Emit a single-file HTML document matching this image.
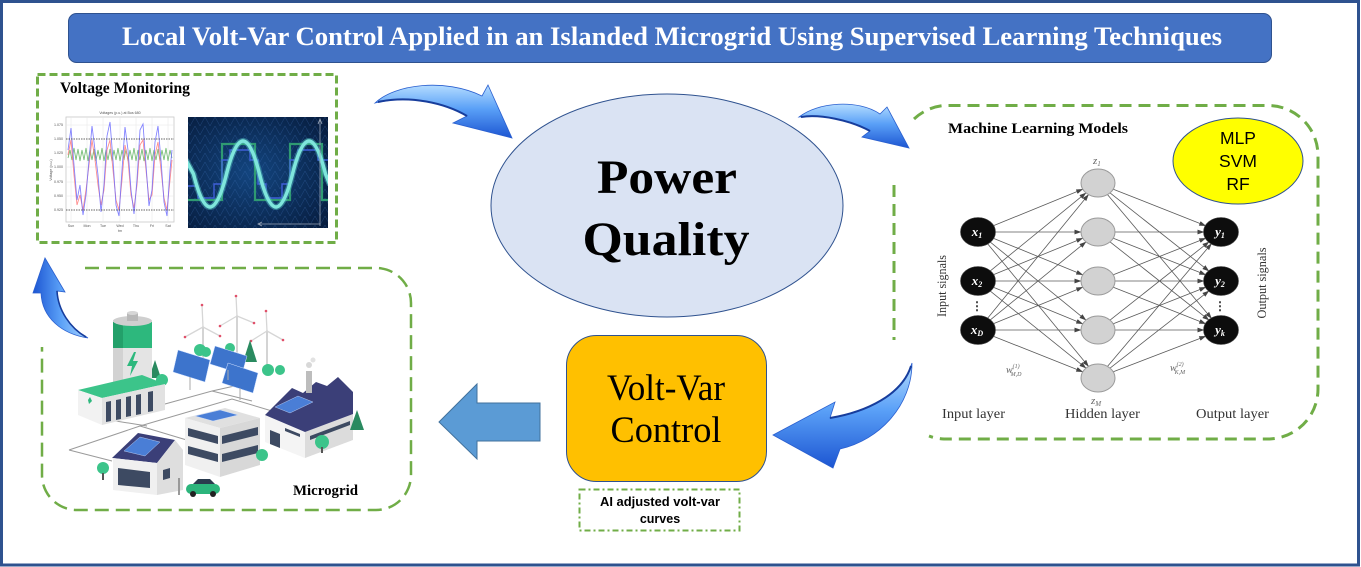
<!DOCTYPE html>
<html><head><meta charset="utf-8">
<style>
html,body{margin:0;padding:0;background:#fff;}
svg{display:block;}
</style></head><body>
<svg width="1361" height="567" viewBox="0 0 1361 567" xmlns="http://www.w3.org/2000/svg">
<defs>
 <linearGradient id="ag" x1="0" y1="0" x2="0" y2="1">
  <stop offset="0" stop-color="#b4dcff"/>
  <stop offset="0.45" stop-color="#5aa0f7"/>
  <stop offset="1" stop-color="#1c55d2"/>
 </linearGradient>
 <linearGradient id="agh" x1="0" y1="0" x2="1" y2="0">
  <stop offset="0" stop-color="#1c55d2"/>
  <stop offset="0.5" stop-color="#5aa0f7"/>
  <stop offset="1" stop-color="#a8d4ff"/>
 </linearGradient>
 <radialGradient id="wbg" cx="0.45" cy="0.5" r="0.75">
  <stop offset="0" stop-color="#13457f"/>
  <stop offset="1" stop-color="#061a3a"/>
 </radialGradient>
 <pattern id="tri" width="10" height="9" patternUnits="userSpaceOnUse">
  <path d="M0,9 L5,0 L10,9" fill="none" stroke="#3a6cb0" stroke-width="0.5" opacity="0.5"/>
 </pattern>
 <clipPath id="wclip"><rect x="188" y="117" width="140" height="111"/></clipPath>
 <marker id="ah" markerWidth="7" markerHeight="6" refX="6.5" refY="3" orient="auto" markerUnits="userSpaceOnUse">
  <path d="M0,0.6 L7,3 L0,5.4 Z" fill="#444"/>
 </marker>
</defs>

<!-- outer border -->
<rect x="1.5" y="1.5" width="1357" height="563.5" fill="#fff" stroke="#2F528F" stroke-width="3"/>

<!-- title -->
<rect x="68.5" y="13.5" width="1203" height="49" rx="8" fill="#4472C4" stroke="#2F528F" stroke-width="1"/>
<text x="672" y="45" text-anchor="middle" font-family="Liberation Serif, serif" font-weight="bold" font-size="26" fill="#fff" textLength="1100" lengthAdjust="spacingAndGlyphs">Local Volt-Var Control Applied in an Islanded Microgrid Using Supervised Learning Techniques</text>

<!-- Voltage monitoring box -->
<rect x="37.5" y="74.5" width="299" height="168" fill="none" stroke="#70AD47" stroke-width="3" stroke-dasharray="8 4"/>
<text x="60" y="93" font-family="Liberation Serif, serif" font-weight="bold" font-size="15.5" fill="#000" textLength="130" lengthAdjust="spacingAndGlyphs">Voltage Monitoring</text>

<!-- chart -->
<g>
 <rect x="66" y="117" width="108" height="105" fill="#fff" stroke="#c8c8c8" stroke-width="0.8"/>
 <g stroke="#e6e6e6" stroke-width="0.5">
  <line x1="71" y1="117" x2="71" y2="222"/><line x1="87" y1="117" x2="87" y2="222"/>
  <line x1="103" y1="117" x2="103" y2="222"/><line x1="120" y1="117" x2="120" y2="222"/>
  <line x1="136" y1="117" x2="136" y2="222"/><line x1="152" y1="117" x2="152" y2="222"/>
  <line x1="168" y1="117" x2="168" y2="222"/>
  <line x1="66" y1="125" x2="174" y2="125"/><line x1="66" y1="153" x2="174" y2="153"/>
  <line x1="66" y1="167" x2="174" y2="167"/><line x1="66" y1="182" x2="174" y2="182"/>
  <line x1="66" y1="196" x2="174" y2="196"/>
 </g>
 <polyline fill="none" stroke="#5fb35f" stroke-width="0.8" opacity="0.9" points="68,158 70,150 72,160 74,148 76,160 78,149 80,161 82,150 84,160 86,148 88,161 90,150 92,160 94,149 96,161 98,150 100,160 102,148 104,161 106,150 108,160 110,149 112,161 114,150 116,160 118,148 120,161 122,150 124,160 126,149 128,161 130,150 132,160 134,148 136,161 138,150 140,160 142,149 144,161 146,150 148,160 150,148 152,161 154,150 156,160 158,149 160,161 162,150 164,160 166,148 168,161 170,150 172,158"/>
 <polyline fill="none" stroke="#ff7a7a" stroke-width="0.9" opacity="0.85" points="68,155 71,140 74,175 77,205 80,195 83,210 86,190 89,165 92,140 95,160 98,185 101,205 104,190 107,150 110,140 113,170 116,200 119,210 122,180 125,145 128,160 131,195 134,208 137,185 140,145 143,140 146,170 149,200 152,195 155,155 158,142 161,170 164,198 167,210 170,180 172,160"/>
 <polyline fill="none" stroke="#6f6fff" stroke-width="0.9" opacity="0.85" points="68,150 71,128 74,165 77,200 80,185 83,215 86,195 89,160 92,126 95,150 98,175 101,212 104,185 107,136 110,122 113,160 116,205 119,216 122,170 125,127 128,150 131,190 134,214 137,180 140,130 143,124 146,165 149,206 152,190 155,142 158,126 161,160 164,202 167,216 170,170 172,150"/>
 <line x1="66" y1="139" x2="174" y2="139" stroke="#333" stroke-width="0.7" stroke-dasharray="1.5 1"/>
 <line x1="66" y1="210" x2="174" y2="210" stroke="#333" stroke-width="0.7" stroke-dasharray="1.5 1"/>
 <g font-family="Liberation Sans, sans-serif" font-size="3.6" fill="#555">
  <text x="120" y="114" text-anchor="middle">Voltages (p.u.) at Bus 680</text>
  <text x="63" y="126" text-anchor="end">1.075</text>
  <text x="63" y="140" text-anchor="end">1.050</text>
  <text x="63" y="154" text-anchor="end">1.025</text>
  <text x="63" y="168" text-anchor="end">1.000</text>
  <text x="63" y="183" text-anchor="end">0.975</text>
  <text x="63" y="197" text-anchor="end">0.950</text>
  <text x="63" y="211" text-anchor="end">0.925</text>
  <text x="71" y="227" text-anchor="middle">Sun</text><text x="87" y="227" text-anchor="middle">Mon</text>
  <text x="103" y="227" text-anchor="middle">Tue</text><text x="120" y="227" text-anchor="middle">Wed</text>
  <text x="136" y="227" text-anchor="middle">Thu</text><text x="152" y="227" text-anchor="middle">Fri</text>
  <text x="168" y="227" text-anchor="middle">Sat</text>
  <text x="120" y="232" text-anchor="middle">tm</text>
  <text x="52" y="170" text-anchor="middle" transform="rotate(-90 52 170)">Voltage (p.u.)</text>
 </g>
</g>

<!-- wave image -->
<g>
 <rect x="188" y="117" width="140" height="111" fill="url(#wbg)"/>
 <rect x="188" y="117" width="140" height="111" fill="url(#tri)"/>
 <g clip-path="url(#wclip)">
  <path d="M188,200 L222,200 L222,144 L255,144 L255,200 L290,200 L290,144 L322,144 L322,200 L330,200" fill="none" stroke="#2f9a72" stroke-width="2.2"/>
  <path d="M188,186 L198,186 L198,198 L214,198 L214,184 L222,184 L222,160 L230,160 L230,150 L250,150 L250,160 L258,160 L258,184 L266,184 L266,198 L282,198 L282,184 L290,184 L290,160 L298,160 L298,150 L318,150 L318,160 L330,160" fill="none" stroke="#3f5fd8" stroke-width="1.4"/>
  <path d="M186,160 L193.5,174 C204.5,218 215.5,218 226.5,174 C237.5,130 248.5,130 259.5,174 C270.5,218 281.5,218 292.5,174 C303.5,130 314.5,130 325.5,174 L330,185" fill="none" stroke="#56c9c8" stroke-width="6" opacity="0.45"/>
  <path d="M186,160 L193.5,174 C204.5,218 215.5,218 226.5,174 C237.5,130 248.5,130 259.5,174 C270.5,218 281.5,218 292.5,174 C303.5,130 314.5,130 325.5,174 L330,185" fill="none" stroke="#7fe6dc" stroke-width="3.5"/>
  <line x1="320" y1="120" x2="320" y2="226" stroke="#9aa6b8" stroke-width="0.8"/>
  <line x1="258" y1="224" x2="320" y2="224" stroke="#9aa6b8" stroke-width="0.8"/>
  <path d="M318,124 L320,119 L322,124" fill="none" stroke="#9aa6b8" stroke-width="0.8"/>
  <path d="M262,222 L258,224 L262,226" fill="none" stroke="#9aa6b8" stroke-width="0.8"/>
 </g>
</g>

<!-- Curved arrows -->
<path d="M375,103 C395,84 445,78 482,96 L488,85 L512,138 L453,123 L467,116 C445,103 410,95 375,103 Z" fill="url(#ag)" stroke="#2a5fcf" stroke-width="0.8"/>
<path d="M467,116 C445,103 410,95 378,102" fill="none" stroke="#173d9c" stroke-width="2"/>
<path d="M799,117 C818,102 858,99 880,114 L887,107 L909,148 L862,137 L870,131 C850,120 820,114 799,117 Z" fill="url(#ag)" stroke="#2a5fcf" stroke-width="0.8"/>
<path d="M870,131 C850,120 820,114 801,117" fill="none" stroke="#173d9c" stroke-width="2"/>
<path d="M45,258 L65,292 L57,291 C58,310 70,328 88,338 C62,334 42,318 41,293 L33,293 Z" fill="url(#agh)" stroke="#2a5fcf" stroke-width="0.8"/>
<path d="M57,291 C58,310 70,328 86,337" fill="none" stroke="#173d9c" stroke-width="1.6"/>
<path d="M912,363 C912,405 880,440 840,449 L833,468 L773,435 L835,402 L830,418 C866,412 902,395 912,363 Z" fill="url(#ag)" stroke="#2a5fcf" stroke-width="0.8"/>
<path d="M830,418 C866,412 902,395 911,366" fill="none" stroke="#173d9c" stroke-width="2"/>

<!-- Power Quality ellipse -->
<ellipse cx="667" cy="205.5" rx="176" ry="111.5" fill="#DAE3F3" stroke="#2F528F" stroke-width="1"/>
<text x="667" y="193" text-anchor="middle" font-family="Liberation Serif, serif" font-weight="bold" font-size="48" fill="#000" textLength="140" lengthAdjust="spacingAndGlyphs">Power</text>
<text x="666" y="255" text-anchor="middle" font-family="Liberation Serif, serif" font-weight="bold" font-size="48" fill="#000" textLength="167" lengthAdjust="spacingAndGlyphs">Quality</text>

<!-- ML box -->
<path d="M914,119 A50,50 0 0 1 944,105.5 L1268,105.5 A50,50 0 0 1 1318,155.5 L1318,389 A50,50 0 0 1 1268,439 L944,439 A50,50 0 0 1 929,436" fill="none" stroke="#70AD47" stroke-width="3" stroke-dasharray="12 7"/>
<path d="M894,185 L894,340" fill="none" stroke="#70AD47" stroke-width="3" stroke-dasharray="12 7"/>
<text x="948" y="133" font-family="Liberation Serif, serif" font-weight="bold" font-size="15" fill="#000" textLength="180" lengthAdjust="spacingAndGlyphs">Machine Learning  Models</text>

<ellipse cx="1238" cy="161" rx="65" ry="43" fill="#FFFF00" stroke="#2F528F" stroke-width="1"/>
<g font-family="Liberation Sans, sans-serif" font-size="17.5" fill="#000" text-anchor="middle">
 <text x="1238" y="144">MLP</text>
 <text x="1238" y="167">SVM</text>
 <text x="1238" y="190">RF</text>
</g>

<!-- NN connections -->
<g stroke="#5a5a5a" stroke-width="0.8" marker-end="url(#ah)">
 <line x1="993.3" y1="225.8" x2="1082.7" y2="189.2"/>
 <line x1="995" y1="232" x2="1081" y2="232"/>
 <line x1="993.3" y1="238.2" x2="1082.7" y2="274.8"/>
 <line x1="990.1" y1="241.9" x2="1085.9" y2="320.1"/>
 <line x1="987.5" y1="243.6" x2="1088.5" y2="366.4"/>
 <line x1="990.1" y1="271.1" x2="1085.9" y2="192.9"/>
 <line x1="993.3" y1="274.8" x2="1082.7" y2="238.2"/>
 <line x1="995" y1="281" x2="1081" y2="281"/>
 <line x1="993.3" y1="287.2" x2="1082.7" y2="323.8"/>
 <line x1="990.1" y1="290.9" x2="1085.9" y2="368.1"/>
 <line x1="987.5" y1="318.4" x2="1088.5" y2="194.6"/>
 <line x1="990.1" y1="320.1" x2="1085.9" y2="241.9"/>
 <line x1="993.3" y1="323.8" x2="1082.7" y2="287.2"/>
 <line x1="995" y1="330" x2="1081" y2="330"/>
 <line x1="993.3" y1="336.2" x2="1082.7" y2="371.8"/>

 <line x1="1113.3" y1="189.2" x2="1205.7" y2="225.8"/>
 <line x1="1110.1" y1="192.9" x2="1208.9" y2="271.1"/>
 <line x1="1107.5" y1="194.6" x2="1211.5" y2="318.4"/>
 <line x1="1115" y1="232" x2="1204" y2="232"/>
 <line x1="1113.3" y1="238.2" x2="1205.7" y2="274.8"/>
 <line x1="1110.1" y1="241.9" x2="1208.9" y2="320.1"/>
 <line x1="1113.3" y1="274.8" x2="1205.7" y2="238.2"/>
 <line x1="1115" y1="281" x2="1204" y2="281"/>
 <line x1="1113.3" y1="287.2" x2="1205.7" y2="323.8"/>
 <line x1="1110.1" y1="320.1" x2="1208.9" y2="241.9"/>
 <line x1="1113.3" y1="323.8" x2="1205.7" y2="287.2"/>
 <line x1="1115" y1="330" x2="1204" y2="330"/>
 <line x1="1107.5" y1="366.4" x2="1211.5" y2="243.6"/>
 <line x1="1110.1" y1="368.1" x2="1208.9" y2="290.9"/>
 <line x1="1113.3" y1="371.8" x2="1205.7" y2="336.2"/>
</g>

<!-- NN nodes -->
<g fill="#d2d2d2" stroke="#9a9a9a" stroke-width="1">
 <ellipse cx="1098" cy="183" rx="17" ry="14"/>
 <ellipse cx="1098" cy="232" rx="17" ry="14"/>
 <ellipse cx="1098" cy="281" rx="17" ry="14"/>
 <ellipse cx="1098" cy="330" rx="17" ry="14"/>
 <ellipse cx="1098" cy="378" rx="17" ry="14"/>
</g>
<g fill="#0d0d0d" stroke="#444" stroke-width="0.6">
 <ellipse cx="978" cy="232" rx="17.5" ry="14.5"/>
 <ellipse cx="978" cy="281" rx="17.5" ry="14.5"/>
 <ellipse cx="978" cy="330" rx="17.5" ry="14.5"/>
 <ellipse cx="1221" cy="232" rx="17.5" ry="14.5"/>
 <ellipse cx="1221" cy="281" rx="17.5" ry="14.5"/>
 <ellipse cx="1221" cy="330" rx="17.5" ry="14.5"/>
</g>
<g font-family="Liberation Serif, serif" font-style="italic" font-weight="bold" font-size="13" fill="#fff" text-anchor="middle">
 <text x="977" y="236">x<tspan font-size="8" dy="2">1</tspan></text>
 <text x="977" y="285">x<tspan font-size="8" dy="2">2</tspan></text>
 <text x="977" y="334">x<tspan font-size="8" dy="2">D</tspan></text>
 <text x="1220" y="236">y<tspan font-size="8" dy="2">1</tspan></text>
 <text x="1220" y="285">y<tspan font-size="8" dy="2">2</tspan></text>
 <text x="1220" y="334">y<tspan font-size="8" dy="2">k</tspan></text>
</g>
<g font-family="Liberation Serif, serif" fill="#333">
 <text x="977" y="310" text-anchor="middle" font-size="12" font-weight="bold">⋮</text>
 <text x="1220" y="310" text-anchor="middle" font-size="12" font-weight="bold">⋮</text>
 <text x="1093" y="164" font-style="italic" font-size="11" fill="#666">z<tspan font-size="7" dy="2">1</tspan></text>
 <text x="1091" y="404" font-style="italic" font-size="11" fill="#666">z<tspan font-size="7" dy="2">M</tspan></text>
 <text x="1006" y="373" font-style="italic" font-size="10" fill="#666">w<tspan font-size="6" dy="-5">(1)</tspan><tspan font-size="6" dx="-9" dy="8">M,D</tspan></text>
 <text x="1170" y="371" font-style="italic" font-size="10" fill="#666">w<tspan font-size="6" dy="-5">(2)</tspan><tspan font-size="6" dx="-9" dy="8">K,M</tspan></text>
 <text x="946" y="286" text-anchor="middle" font-size="13" transform="rotate(-90 946 286)" textLength="62" lengthAdjust="spacingAndGlyphs">Input signals</text>
 <text x="1266" y="283" text-anchor="middle" font-size="13" transform="rotate(-90 1266 283)" textLength="71" lengthAdjust="spacingAndGlyphs">Output signals</text>
 <text x="942" y="418" font-size="14" textLength="63" lengthAdjust="spacingAndGlyphs">Input layer</text>
 <text x="1065" y="418" font-size="14" textLength="75" lengthAdjust="spacingAndGlyphs">Hidden layer</text>
 <text x="1196" y="418" font-size="14" textLength="73" lengthAdjust="spacingAndGlyphs">Output layer</text>
</g>

<!-- Volt-Var control box -->
<rect x="566.5" y="335.5" width="200" height="146" rx="30" fill="#FFC000" stroke="#2F528F" stroke-width="1"/>
<text x="666" y="400" text-anchor="middle" font-family="Liberation Serif, serif" font-size="37" fill="#000" textLength="118" lengthAdjust="spacingAndGlyphs">Volt-Var</text>
<text x="666" y="442" text-anchor="middle" font-family="Liberation Serif, serif" font-size="37" fill="#000" textLength="111" lengthAdjust="spacingAndGlyphs">Control</text>

<rect x="579.5" y="489.5" width="160" height="41" fill="none" stroke="#70AD47" stroke-width="2" stroke-dasharray="6 3 2 3"/>
<g font-family="Liberation Sans, sans-serif" font-weight="bold" font-size="12.5" fill="#000" text-anchor="middle">
 <text x="660" y="506" textLength="120" lengthAdjust="spacingAndGlyphs">AI adjusted volt-var</text>
 <text x="660" y="523">curves</text>
</g>

<!-- Block arrow -->
<polygon points="439,422 477,384 477,403 540,403 540,441 477,441 477,459" fill="#5B9BD5" stroke="#41719C" stroke-width="1"/>

<!-- Microgrid box -->
<path d="M85,268 L376,268 A35,35 0 0 1 411,303 L411,475 A35,35 0 0 1 376,510 L77,510 A35,35 0 0 1 42,475 L42,347" fill="none" stroke="#70AD47" stroke-width="2.5" stroke-dasharray="14 7"/>
<text x="293" y="495" font-family="Liberation Serif, serif" font-weight="bold" font-size="15" fill="#000" textLength="65" lengthAdjust="spacingAndGlyphs">Microgrid</text>

<!-- Microgrid illustration -->
<g>
 <!-- wires -->
 <g stroke="#9a9a9a" stroke-width="1" fill="none">
  <polyline points="69,450 140,426 232,399 272,411"/>
  <polyline points="69,450 112,461"/>
  <polyline points="140,426 190,441"/>
  <polyline points="165,404 212,391 252,401"/>
  <polyline points="97,418 147,426"/>
  <polyline points="212,391 248,383"/>
 </g>
 <!-- turbines -->
 <g stroke="#cfcfcf" stroke-width="1.8" stroke-linecap="round">
  <line x1="203" y1="327" x2="203" y2="362"/>
  <line x1="237" y1="316" x2="237" y2="352"/>
  <line x1="267" y1="331" x2="267" y2="372"/>
 </g>
 <g stroke="#d6d6d6" stroke-width="1.3" stroke-linecap="round">
  <line x1="203" y1="327" x2="202" y2="305"/><line x1="203" y1="327" x2="185" y2="337"/><line x1="203" y1="327" x2="220" y2="336"/>
  <line x1="237" y1="316" x2="236" y2="296"/><line x1="237" y1="316" x2="220" y2="326"/><line x1="237" y1="316" x2="254" y2="323"/>
  <line x1="267" y1="331" x2="266" y2="311"/><line x1="267" y1="331" x2="251" y2="341"/><line x1="267" y1="331" x2="283" y2="340"/>
 </g>
 <g fill="#e0506a">
  <circle cx="202" cy="305" r="1.3"/><circle cx="185" cy="337" r="1.3"/><circle cx="220" cy="336" r="1.3"/>
  <circle cx="236" cy="296" r="1.3"/><circle cx="220" cy="326" r="1.3"/><circle cx="254" cy="323" r="1.3"/>
  <circle cx="266" cy="311" r="1.3"/><circle cx="251" cy="341" r="1.3"/><circle cx="283" cy="340" r="1.3"/>
 </g>
 <!-- back trees -->
 <g fill="#3cc48a">
  <circle cx="200" cy="350" r="6"/><circle cx="206" cy="352" r="5"/>
  <circle cx="230" cy="348" r="5"/>
  <circle cx="268" cy="370" r="6"/><circle cx="280" cy="370" r="5"/>
 </g>
 <polygon points="250,340 243,362 257,362" fill="#2a8a60"/>
 <polygon points="155,360 149,378 161,378" fill="#2a8a60"/>
 <circle cx="162" cy="380" r="6" fill="#3cc48a"/>
 <!-- battery -->
 <rect x="113" y="320" width="39" height="62" fill="#e4e4e4"/>
 <rect x="113" y="320" width="10" height="62" fill="#d2d2d2"/>
 <rect x="113" y="322" width="39" height="26" fill="#2db87d"/>
 <rect x="113" y="322" width="10" height="26" fill="#23a06a"/>
 <ellipse cx="132.5" cy="321" rx="19.5" ry="5" fill="#cfcfcf"/>
 <rect x="127" y="313" width="11" height="8" fill="#b8b8b8"/>
 <ellipse cx="132.5" cy="313" rx="5.5" ry="2" fill="#d6d6d6"/>
 <polygon points="134,352 127,366 132,366 130,376 138,361 133,361 136,352" fill="#2db87d"/>
 <!-- containers -->
 <polygon points="78,390 142,375 165,384 102,398" fill="#3cc48a"/>
 <polygon points="78,390 102,398 102,425 78,415" fill="#f2f2f2"/>
 <polygon points="102,398 165,384 165,410 102,425" fill="#e2e2e2"/>
 <g fill="#3d4a62">
  <polygon points="106,402 111,401 111,421 106,422"/>
  <polygon points="116,400 121,399 121,419 116,420"/>
  <polygon points="126,397 131,396 131,416 126,417"/>
  <polygon points="136,395 141,394 141,414 136,415"/>
  <polygon points="148,392 153,391 153,411 148,412"/>
 </g>
 <polygon points="88,400 90,397 92,401 89,404" fill="#2db87d"/>
 <!-- solar panels -->
 <g fill="#3d74cc" stroke="#cfe0ff" stroke-width="0.5">
  <polygon points="178,350 210,360 205,382 173,372"/>
  <polygon points="215,346 247,356 242,374 210,364"/>
  <polygon points="228,363 258,373 253,393 222,383"/>
 </g>
 <g stroke="#aaa" stroke-width="1">
  <line x1="190" y1="377" x2="190" y2="390"/><line x1="228" y1="370" x2="228" y2="380"/><line x1="240" y1="388" x2="240" y2="400"/>
 </g>
 <!-- factory -->
 <polygon points="265,415 305,432 305,458 265,442" fill="#f4f4f4"/>
 <polygon points="305,432 353,414 353,440 305,458" fill="#dcdcdc"/>
 <polygon points="265,415 292,388 303,393 316,382 327,386 338,377 353,392 353,414 305,432" fill="#3b3f78"/>
 <polygon points="275,407 298,396 313,402 290,413" fill="#4a7ed6" stroke="#cfe0ff" stroke-width="0.4"/>
 <rect x="306" y="371" width="6" height="22" fill="#bdbdbd"/>
 <circle cx="309" cy="365" r="3" fill="#d8d8d8"/><circle cx="313" cy="360" r="2.5" fill="#e2e2e2"/>
 <polygon points="270,430 280,434 280,448 270,444" fill="#3d4a62"/>
 <polygon points="310,436 350,421 350,425 310,440" fill="#3d4a62"/>
 <polygon points="285,428 300,434 300,437 285,431" fill="#3d4a62"/>
 <!-- factory trees -->
 <polygon points="357,410 350,430 364,430" fill="#2a8a60"/>
 <circle cx="322" cy="442" r="7" fill="#3cc48a"/><rect x="321" y="447" width="2" height="6" fill="#555"/>
 <!-- office -->
 <polygon points="185,418 225,408 260,418 220,428" fill="#e0e0e0"/>
 <polygon points="195,416 220,410 238,415 213,421" fill="#4a7ed6" stroke="#cfe0ff" stroke-width="0.4"/>
 <polygon points="185,418 220,428 220,477 185,465" fill="#f0f0f0"/>
 <polygon points="220,428 260,418 260,465 220,477" fill="#d8d8d8"/>
 <g fill="#3d4a62">
  <polygon points="188,428 218,436 218,444 188,436"/>
  <polygon points="188,446 218,454 218,462 188,454"/>
  <polygon points="222,436 258,427 258,435 222,444"/>
  <polygon points="222,454 258,445 258,453 222,462"/>
 </g>
 <circle cx="262" cy="455" r="6" fill="#3cc48a"/>
 <!-- house -->
 <polygon points="112,458 138,433 175,440 157,463" fill="#3b3f78"/>
 <polygon points="124,451 140,437 160,442 145,456" fill="#4a7ed6" stroke="#cfe0ff" stroke-width="0.4"/>
 <polygon points="113,458 157,463 157,495 113,490" fill="#f0f0f0"/>
 <polygon points="157,463 175,440 183,450 183,490 157,495" fill="#dedede"/>
 <g fill="#3d4a62">
  <polygon points="118,468 150,472 150,488 118,485"/>
  <polygon points="163,470 170,468 170,478 163,480"/>
 </g>
 <circle cx="103" cy="468" r="6" fill="#3cc48a"/><rect x="102" y="473" width="2" height="7" fill="#555"/>
 <!-- car -->
 <rect x="178" y="478" width="2" height="17" fill="#999"/>
 <rect x="186" y="484" width="34" height="10" rx="5" fill="#2cb57c"/>
 <path d="M193,484 L198,479 L210,479 L215,484 Z" fill="#2a3b4e"/>
 <circle cx="193" cy="494" r="3" fill="#222"/><circle cx="213" cy="494" r="3" fill="#222"/>
</g>
</svg>
</body></html>
